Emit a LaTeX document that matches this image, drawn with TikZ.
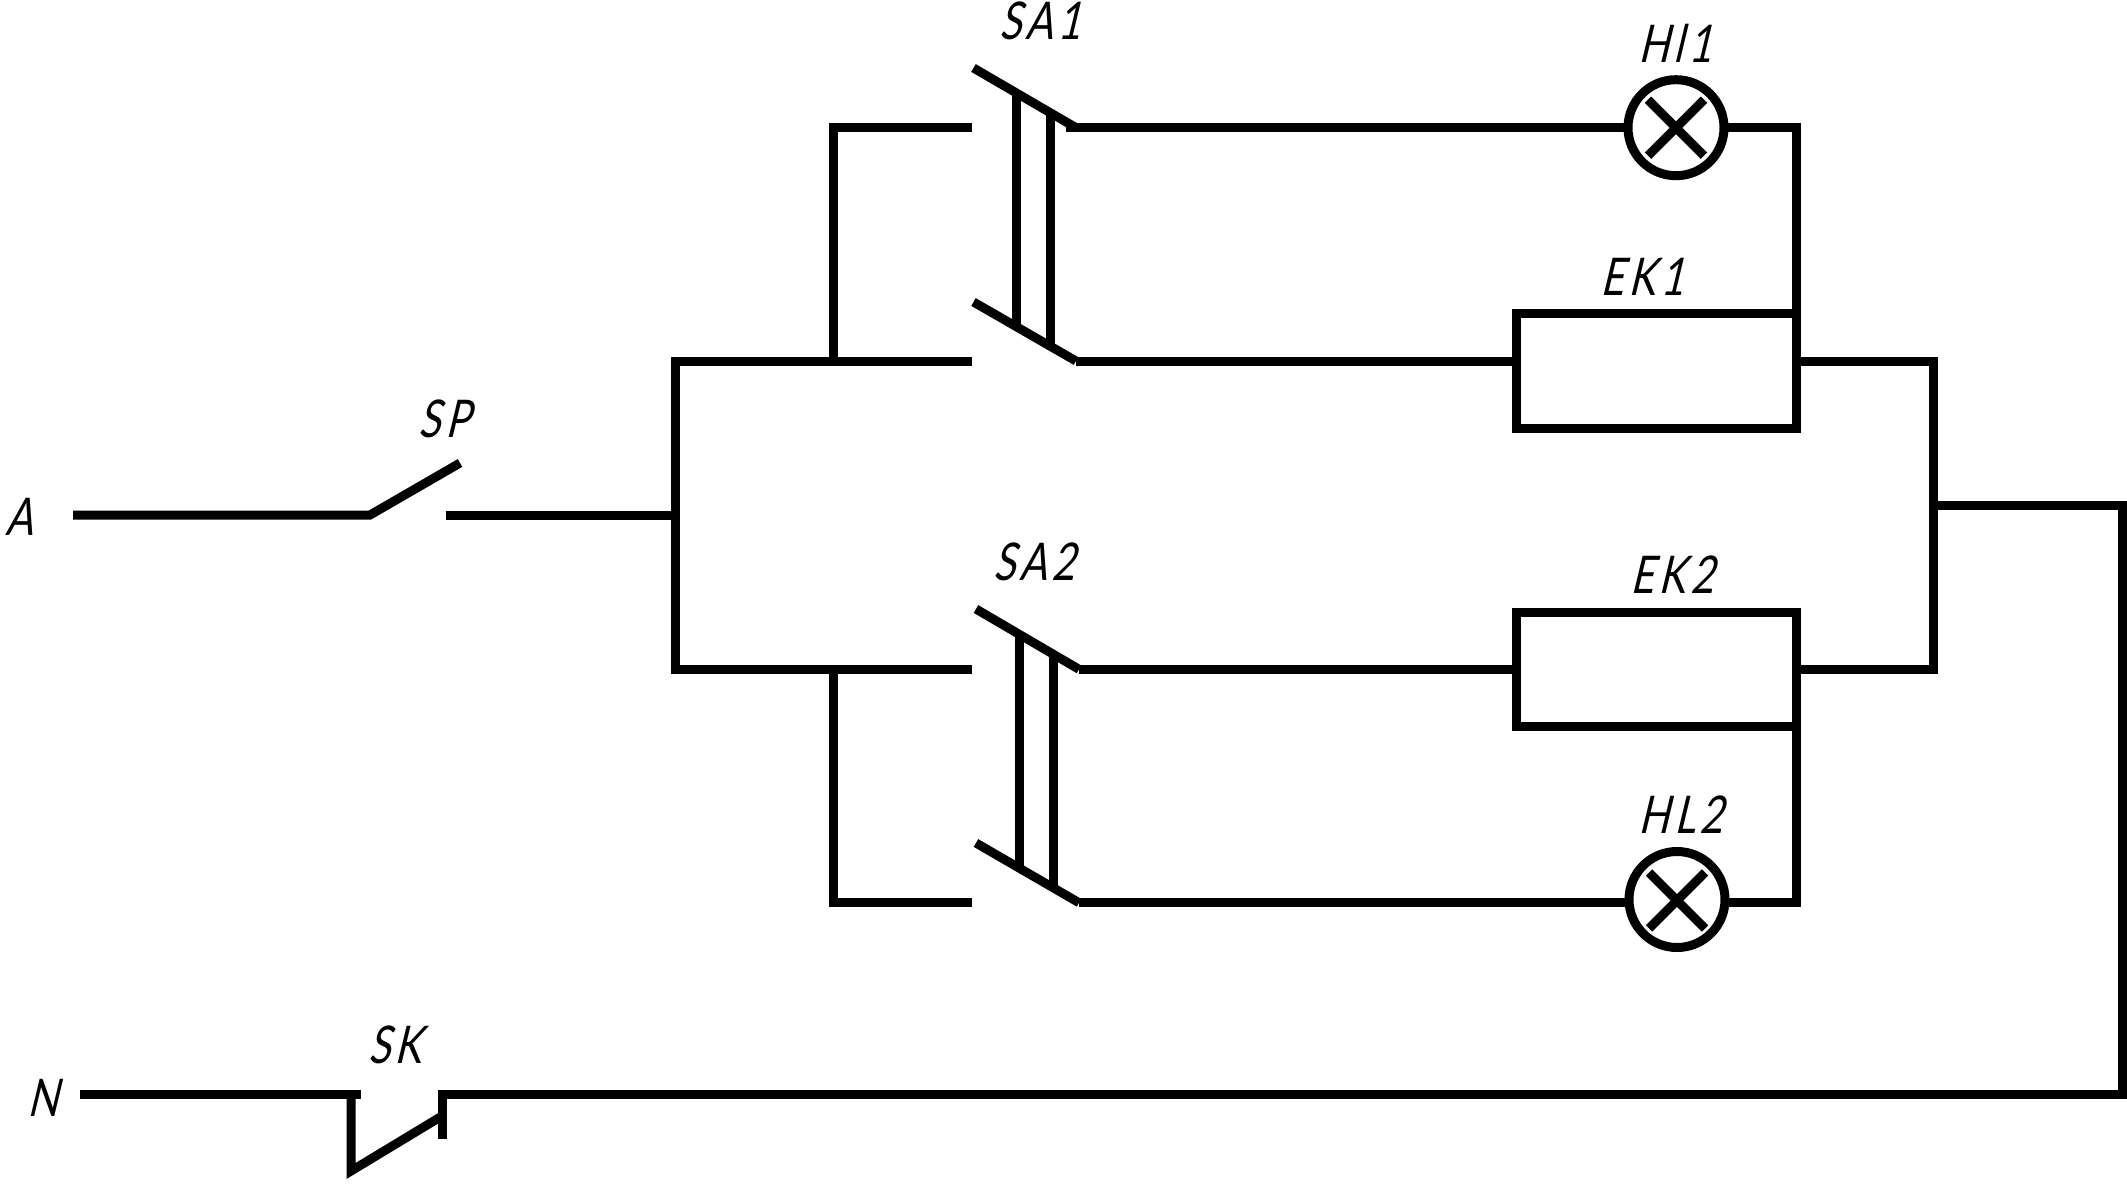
\documentclass[tikz,border=0pt]{standalone}
\usepackage{fontspec}
\newfontfamily\gost[FakeSlant=0.24,FakeStretch=0.78,LetterSpace=9]{Lato}
\tikzset{
  wire/.style={line width=4.5pt,line cap=butt,line join=miter,draw=black},
  lbl/.style={font=\gost\fontsize{26pt}{26pt}\selectfont,anchor=base,inner sep=0pt,outer sep=0pt,text=black},
  lamp/.style={circle,draw=black,line width=4.5pt,minimum size=48pt,inner sep=0pt,outer sep=0pt},
  heater/.style={rectangle,draw=black,line width=4.5pt,minimum width=140pt,inner sep=0pt,outer sep=0pt},
}
\begin{document}
\begin{tikzpicture}[x=0.5pt,y=-0.5pt]
\useasboundingbox (0,0) rectangle (2127,1184);
% labels
\node[lbl] (tA) at (19,535) {A};
\node[lbl] (tN) at (43,1116) {N};
\node[lbl] (tSP) at (444,437) {SP};
\node[lbl] (tSK) at (395,1063) {SK};
\node[lbl] (tSA1) at (1040,39) {SA1};
\node[lbl] (tSA2) at (1034,580) {SA2};
\node[lbl] (tHL1) at (1675,62) {Hl1};
\node[lbl] (tHL2) at (1681,833) {HL2};
\node[lbl] (tEK1) at (1642,295) {EK1};
\node[lbl] (tEK2) at (1672,593) {EK2};
% elements
\node[lamp] (hl1) at (1676,127.7) {};
\node[lamp] (hl2) at (1677,899.5) {};
\node[heater,minimum height=57.5pt] (ek1) at (1656,370.5) {};
\node[heater,minimum height=57pt] (ek2) at (1656,669.7) {};
% points
\coordinate (a0) at (73,515);
\coordinate (sp0) at (370,515);
\coordinate (sp1) at (460,463);
\coordinate (sp2) at (445.5,515);
\coordinate (j0) at (675,515);
\coordinate (jt) at (675,361);
\coordinate (jb) at (675,669.3);
\coordinate (bt) at (833,361);
\coordinate (bt2) at (833,127.7);
\coordinate (bb) at (833,669.3);
\coordinate (bb2) at (833,902.7);
\coordinate (c1t) at (972,127.7);
\coordinate (c1b) at (972,361);
\coordinate (c2t) at (972,669.3);
\coordinate (c2b) at (972,902.7);
\coordinate (r1) at (1796,127.7);
\coordinate (r2) at (1796,361);
\coordinate (r3) at (1933,361);
\coordinate (r4) at (1933,669.3);
\coordinate (r5) at (1796,669.3);
\coordinate (r6) at (1796,902.7);
\coordinate (o1) at (1933,505);
\coordinate (o2) at (2122,505);
\coordinate (o3) at (2122,1094.5);
\coordinate (sk1) at (442,1094.5);
\coordinate (sk2) at (442,1139);
\coordinate (sk3) at (442,1116);
\coordinate (sk4) at (351,1171);
\coordinate (sk5) at (351,1094.5);
\coordinate (sk6) at (360.5,1094.5);
\coordinate (n0) at (80,1094.5);
% SA1 blades and linkage
\coordinate (s1a) at (973.5,68);
\coordinate (s1b) at (1076,127.7);
\coordinate (s1c) at (973.5,302);
\coordinate (s1d) at (1076,361);
\coordinate (s1w) at (1066,127.7);
\coordinate (l1a) at (1016.5,93);
\coordinate (l1b) at (1016.5,327);
\coordinate (l1c) at (1050.4,113);
\coordinate (l1d) at (1050.4,347);
% SA2
\coordinate (s2a) at (976,609);
\coordinate (s2b) at (1079,669.3);
\coordinate (s2c) at (976,843);
\coordinate (s2d) at (1079,902.7);
\coordinate (l2a) at (1019.4,635);
\coordinate (l2b) at (1019.4,869);
\coordinate (l2c) at (1053,655);
\coordinate (l2d) at (1053,889);
% wires
\draw[wire] (a0) -- (sp0) -- (sp1);
\draw[wire] (sp2) -- (j0);
\draw[wire] (c1b) -- (jt) -- (jb) -- (c2t);
\draw[wire] (bt) -- (bt2) -- (c1t);
\draw[wire] (bb) -- (bb2) -- (c2b);
\draw[wire] (s1a) -- (s1b);
\draw[wire] (s1c) -- (s1d);
\draw[wire] (s2a) -- (s2b);
\draw[wire] (s2c) -- (s2d);
\draw[wire] (l1a) -- (l1b);
\draw[wire] (l1c) -- (l1d);
\draw[wire] (l2a) -- (l2b);
\draw[wire] (l2c) -- (l2d);
\draw[wire] (s1w) -- (hl1.west);
\draw[wire] (hl1.east) -- (r1) -- (ek1.north east);
\draw[wire] (s1d) -- (ek1.west |- s1d);
\draw[wire] (s2b) -- (ek2.west |- s2b);
\draw[wire] (s2d) -- (hl2.west |- s2d);
\draw[wire] (hl2.east |- s2d) -- (r6) -- (ek2.south east);
\draw[wire] (r2) -- (r3) -- (r4) -- (r5);
\draw[wire] (o1) -- (o2) -- (o3) -- (sk1) -- (sk2);
\draw[wire] (n0) -- (sk6);
\draw[wire] (sk5) -- (sk4) -- (sk3);
% lamp crosses
\draw[wire] ([shift={(-28,-28)}]hl1.center) -- ([shift={(28,28)}]hl1.center);
\draw[wire] ([shift={(28,-28)}]hl1.center) -- ([shift={(-28,28)}]hl1.center);
\draw[wire] ([shift={(-28,-27)}]hl2.center) -- ([shift={(28,29)}]hl2.center);
\draw[wire] ([shift={(28,-27)}]hl2.center) -- ([shift={(-28,29)}]hl2.center);
\end{tikzpicture}
\end{document}
